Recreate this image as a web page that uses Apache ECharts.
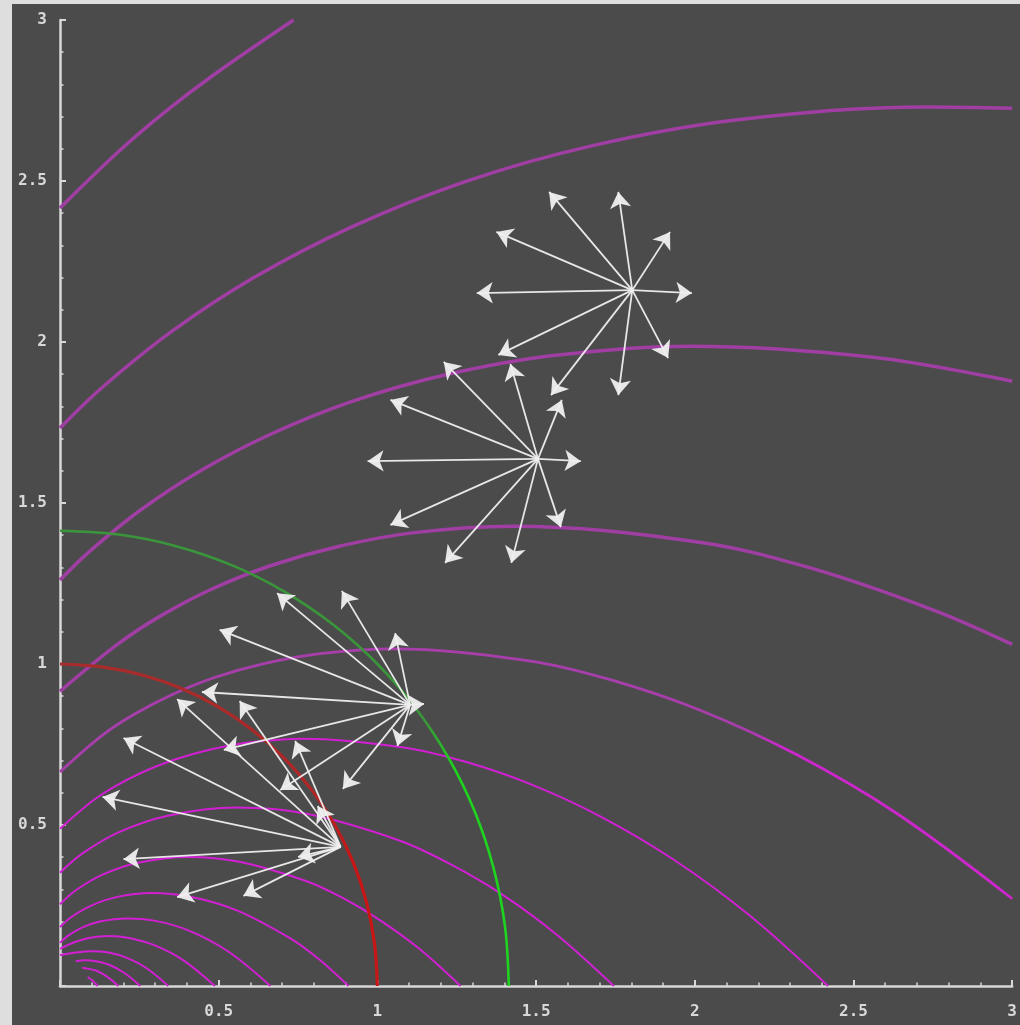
<!DOCTYPE html>
<html>
<head>
<meta charset="utf-8">
<title>spiral contours</title>
<script src="https://cdn.jsdelivr.net/npm/echarts/dist/echarts.min.js"></script>
<style>
  html, body { margin: 0; padding: 0; background: #dedede; }
  #chart { width: 1020px; height: 1025px; }
</style>
</head>
<body>
<div id="chart"></div>
<script>
// tick labels shown on both axes (no label at 0)
const tickLabels = ['0.5', '1', '1.5', '2', '2.5', '3'];

// contour curves, outermost first as [x, y]
const contourA = [[0, 2.416], [0.183, 2.59], [0.329, 2.713], [0.489, 2.833], [0.736, 3.0]];
const contourB = [[0, 1.733], [0.132, 1.858], [0.351, 2.032], [0.611, 2.2], [0.916, 2.356], [1.27, 2.496],
  [1.675, 2.609], [2.135, 2.69], [2.73, 2.73], [3.0, 2.726]];
const contourC = [[0, 1.261], [0.096, 1.352], [0.255, 1.479], [0.444, 1.601], [0.667, 1.715], [0.925, 1.817],
  [1.219, 1.899], [1.554, 1.958], [1.987, 1.987], [2.568, 1.952], [3.0, 1.878]];
const contourD = [[0, 0.915], [0.184, 1.063], [0.32, 1.151], [0.479, 1.233], [0.665, 1.306], [0.877, 1.365],
  [1.117, 1.408], [1.428, 1.428], [2.014, 1.378], [2.372, 1.296], [2.756, 1.166], [3.0, 1.061]];
const contourE = [[0, 0.665], [0.135, 0.78], [0.234, 0.844], [0.351, 0.904], [0.487, 0.958], [0.643, 1.001],
  [0.819, 1.032], [1.047, 1.047], [1.477, 1.01], [1.739, 0.95], [2.021, 0.855], [2.322, 0.718], [2.638, 0.535], [3.0, 0.271]];
const contourF = [[0, 0.488], [0.099, 0.572], [0.172, 0.619], [0.258, 0.663], [0.357, 0.702], [0.471, 0.734],
  [0.601, 0.757], [0.768, 0.768], [1.083, 0.741], [1.275, 0.697], [1.482, 0.627], [1.702, 0.527], [1.934, 0.392],
  [2.174, 0.218], [2.42, 0]];
const contourG = [[0, 0.352], [0.071, 0.412], [0.186, 0.478], [0.34, 0.529], [0.554, 0.554], [0.781, 0.534],
  [1.069, 0.452], [1.227, 0.38], [1.395, 0.283], [1.568, 0.157], [1.745, 0]];
const contourH = [[0, 0.254], [0.051, 0.298], [0.134, 0.346], [0.246, 0.383], [0.401, 0.401], [0.565, 0.386],
  [0.773, 0.327], [0.888, 0.275], [1.009, 0.204], [1.134, 0.114], [1.262, 0]];
const contourI = [[0, 0.183], [0.037, 0.215], [0.097, 0.249], [0.177, 0.276], [0.289, 0.289], [0.407, 0.278],
  [0.557, 0.235], [0.727, 0.147], [0.817, 0.082], [0.909, 0]];
const contourJ = [[0, 0.134], [0.027, 0.157], [0.071, 0.182], [0.129, 0.201], [0.21, 0.21], [0.297, 0.203],
  [0.406, 0.172], [0.53, 0.107], [0.663, 0]];
const contourK = [[0, 0.115], [0.02, 0.125], [0.052, 0.138], [0.095, 0.15], [0.155, 0.155], [0.218, 0.149],
  [0.299, 0.126], [0.39, 0.079], [0.488, 0]];
const contourL = [[0, 0.096], [0.05, 0.104], [0.1, 0.108], [0.153, 0.104], [0.209, 0.088], [0.273, 0.055], [0.341, 0]];
const contourM = [[0.05, 0.077], [0.08, 0.08], [0.113, 0.077], [0.155, 0.066], [0.202, 0.041], [0.253, 0]];
const contourN = [[0.07, 0.057], [0.113, 0.048], [0.147, 0.03], [0.184, 0]];
const contourO = [[0.087, 0.028], [0.1, 0.019], [0.119, 0]];

// the two quarter circles (red r = 1, green r = 1.414)
const redArc = [[0, 1], [0.131, 0.991], [0.259, 0.966], [0.383, 0.924], [0.5, 0.866], [0.609, 0.793], [0.707, 0.707],
  [0.793, 0.609], [0.866, 0.5], [0.924, 0.383], [0.966, 0.259], [0.991, 0.131], [1, 0]];
const greenArc = [[0, 1.414], [0.185, 1.402], [0.366, 1.366], [0.541, 1.307], [0.707, 1.225], [0.861, 1.122], [1, 1],
  [1.122, 0.861], [1.225, 0.707], [1.307, 0.541], [1.366, 0.366], [1.402, 0.185], [1.414, 0]];

// arrow stars: start point of each star and the tips of its arrows
const starCenters = [[1.803, 2.161], [1.506, 1.637], [1.103, 0.873], [0.884, 0.432]];
const tipsP1 = [[1.541, 2.466], [1.759, 2.466], [1.922, 2.342], [1.991, 2.152], [1.313, 2.152], [1.375, 2.342],
  [1.916, 1.95], [1.759, 1.835], [1.547, 1.835], [1.381, 1.96]];
const tipsP2 = [[1.209, 1.938], [1.419, 1.932], [1.581, 1.82], [1.641, 1.63], [0.969, 1.63], [1.041, 1.82],
  [1.578, 1.425], [1.422, 1.314], [1.213, 1.314], [1.041, 1.432]];
const tipsP3 = [[0.684, 1.22], [0.888, 1.227], [1.056, 1.096], [0.503, 1.106], [0.447, 0.913], [0.516, 0.733],
  [0.694, 0.609], [0.891, 0.612], [1.063, 0.745], [1.147, 0.876]];
const tipsP4 = [[0.369, 0.891], [0.566, 0.885], [0.2, 0.77], [0.741, 0.761], [0.134, 0.587], [0.812, 0.559],
  [0.2, 0.394], [0.75, 0.401], [0.369, 0.276], [0.578, 0.28]];

const purple = '#a03ea4';
const magenta = '#d21fd4';
const axisColor = '#d8d8d8';

const chart = echarts.init(document.getElementById('chart'));

function curve(data, color, width) {
  return {
    type: 'line',
    data: data,
    smooth: 0.35,
    symbol: 'none',
    silent: true,
    clip: true,
    z: 2,
    lineStyle: { color: color, width: width }
  };
}

function vGradient(stops) {
  return { type: 'linear', x: 0, y: 0, x2: 0, y2: 1, colorStops: stops };
}

const arrowData = [];
[tipsP1, tipsP2, tipsP3, tipsP4].forEach((tips, i) => {
  tips.forEach(t => arrowData.push({ coords: [starCenters[i], t] }));
});

const axisLabel = {
  color: '#d8d8d8',
  fontFamily: 'DejaVu Sans Mono',
  fontSize: 16,
  fontWeight: 'bold',
  formatter: v => tickLabels.indexOf(String(v)) >= 0 ? String(v) : ''
};

chart.setOption({
  animation: false,
  backgroundColor: 'transparent',
  graphic: [{
    type: 'rect', left: 12, top: 4, z: -10, silent: true,
    shape: { width: 1008, height: 1021 },
    style: { fill: '#4b4b4b' }
  }],
  grid: { left: 60, right: 1, top: 20, bottom: 39 },
  xAxis: {
    type: 'value', min: 0, max: 3, interval: 0.5,
    axisLine: { show: true, onZero: false, lineStyle: { color: axisColor, width: 2.5 } },
    axisTick: { show: true, inside: true, length: 6, lineStyle: { color: axisColor, width: 2 } },
    minorTick: { show: true, splitNumber: 5, length: 3.5, lineStyle: { color: axisColor, width: 1.5 } },
    splitLine: { show: false },
    axisLabel: Object.assign({ margin: 18 }, axisLabel)
  },
  yAxis: {
    type: 'value', min: 0, max: 3, interval: 0.5,
    axisLine: { show: true, onZero: false, lineStyle: { color: axisColor, width: 2.5 } },
    axisTick: { show: true, inside: true, length: 6, lineStyle: { color: axisColor, width: 2 } },
    minorTick: { show: true, splitNumber: 5, length: 3.5, lineStyle: { color: axisColor, width: 1.5 } },
    splitLine: { show: false },
    axisLabel: Object.assign({ margin: 13 }, axisLabel)
  },
  series: [
    curve(contourA, purple, 3.5),
    curve(contourB, purple, 3.5),
    curve(contourC, purple, 3.5),
    curve(contourD, purple, 3.5),
    curve(contourE, { type: 'linear', x: 0, y: 0, x2: 1, y2: 0, colorStops: [
      { offset: 0, color: '#a83eac' }, { offset: 0.72, color: '#a83eac' },
      { offset: 0.76, color: '#cc26cc' }, { offset: 1, color: '#cc26cc' }] }, 2.8),
    curve(contourF, magenta, 2),
    curve(contourG, magenta, 2),
    curve(contourH, magenta, 2),
    curve(contourI, magenta, 2),
    curve(contourJ, magenta, 2),
    curve(contourK, magenta, 2),
    curve(contourL, magenta, 2),
    curve(contourM, magenta, 2),
    curve(contourN, magenta, 2),
    curve(contourO, magenta, 2),
    curve(redArc, vGradient([
      { offset: 0, color: '#a82c2c' }, { offset: 0.45, color: '#b22424' },
      { offset: 0.6, color: '#c81616' }, { offset: 1, color: '#c81616' }]), 3.2),
    curve(greenArc, vGradient([
      { offset: 0, color: '#3a963a' }, { offset: 0.42, color: '#3a963a' },
      { offset: 0.52, color: '#1ed41e' }, { offset: 1, color: '#1ed41e' }]), 2.6),
    {
      type: 'lines',
      coordinateSystem: 'cartesian2d',
      silent: true,
      z: 5,
      symbol: ['none', 'arrow'],
      symbolSize: 16,
      lineStyle: { color: '#efefef', width: 1.8, opacity: 0.95, curveness: 0 },
      data: arrowData
    }
  ]
});
</script>
</body>
</html>
